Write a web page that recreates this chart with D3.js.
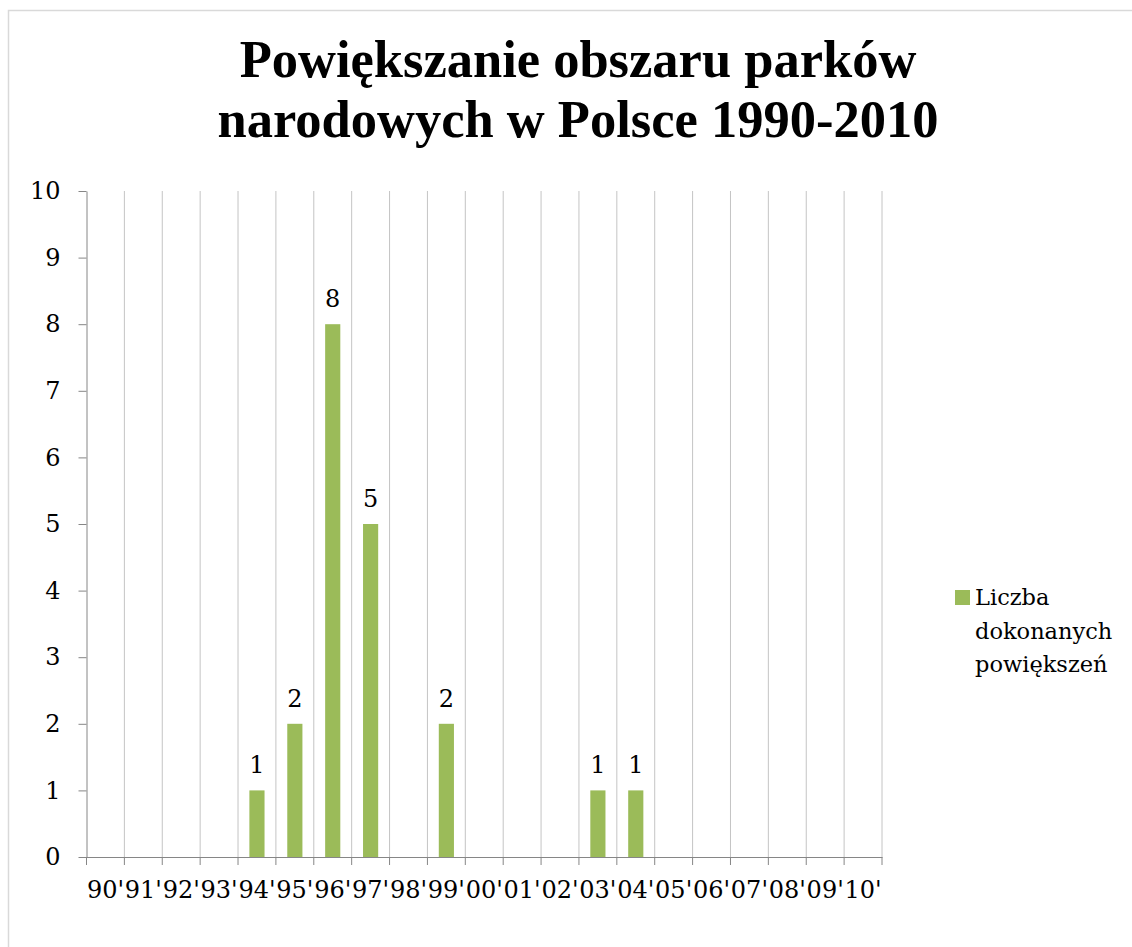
<!DOCTYPE html>
<html>
<head>
<meta charset="utf-8">
<script src="https://cdn.jsdelivr.net/npm/d3@7/dist/d3.min.js"></script>
<style>
  body { margin: 0; background: #fff; }
  svg text { font-family: "DejaVu Serif", serif; fill: #000; }
</style>
</head>
<body>
<svg width="1132" height="947"></svg>
<script>
// Data
const years = ["90'", "91'", "92'", "93'", "94'", "95'", "96'", "97'", "98'", "99'", "00'",
  "01'", "02'", "03'", "04'", "05'", "06'", "07'", "08'", "09'", "10'"];
const counts = [0, 0, 0, 0, 1, 2, 8, 5, 0, 2, 0, 0, 0, 1, 1, 0, 0, 0, 0, 0, 0];
const yTicks = [0, 1, 2, 3, 4, 5, 6, 7, 8, 9, 10];
const titleLines = ["Powiększanie obszaru parków", "narodowych w Polsce 1990-2010"];
const legendLines = ["Liczba", "dokonanych", "powiększeń"];

const svg = d3.select("svg");
const plotLeft = 86.5, plotRight = 882, plotTop = 191, plotBottom = 857;
const labelSize = "24px";

// outer chart border
svg.append("rect")
  .attr("x", 8.5).attr("y", 10.5)
  .attr("width", 1140).attr("height", 960)
  .attr("fill", "none").attr("stroke", "#d9d9d9").attr("stroke-width", 1.5);

// title
svg.append("g").selectAll("text")
  .data(titleLines)
  .enter()
  .append("text")
  .attr("x", 578)
  .attr("y", (d, i) => 77 + i * 60)
  .attr("text-anchor", "middle")
  .style("font-family", "'Liberation Serif', serif")
  .style("font-weight", "bold")
  .style("font-size", "52.5px")
  .text(d => d);

const x = d3.scaleBand().domain(years).range([plotLeft, plotRight]).paddingInner(0).paddingOuter(0);
const y = d3.scaleLinear().domain([0, 10]).range([plotBottom, plotTop]);

// vertical gridlines at category boundaries
svg.append("g").selectAll("line")
  .data(years)
  .enter()
  .append("line")
  .attr("x1", d => x(d) + x.bandwidth())
  .attr("x2", d => x(d) + x.bandwidth())
  .attr("y1", plotTop).attr("y2", plotBottom)
  .attr("stroke", "#c4c4c4").attr("stroke-width", 1);

// bars
const barW = x.bandwidth() / 2.5;
const barData = counts.map((v, i) => ({ year: years[i], v })).filter(d => d.v > 0);
svg.append("g").selectAll("rect")
  .data(barData)
  .enter()
  .append("rect")
  .attr("x", d => x(d.year) + (x.bandwidth() - barW) / 2)
  .attr("y", d => y(d.v))
  .attr("width", barW)
  .attr("height", d => y(0) - y(d.v))
  .attr("fill", "#9bbb59");

// data labels
svg.append("g").selectAll("text")
  .data(barData)
  .enter()
  .append("text")
  .attr("x", d => x(d.year) + x.bandwidth() / 2)
  .attr("y", d => y(d.v) - 17)
  .attr("text-anchor", "middle")
  .style("font-size", labelSize)
  .text(d => d.v);

// y axis
const yAxis = svg.append("g")
  .attr("transform", `translate(${plotLeft},0)`)
  .call(d3.axisLeft(y).tickValues(yTicks).tickSize(8).tickSizeOuter(0).tickPadding(18));
yAxis.select(".domain").attr("stroke", "#868686");
yAxis.selectAll(".tick line").attr("stroke", "#868686");
yAxis.selectAll(".tick text").style("font-size", labelSize).style("font-family", "'DejaVu Serif', serif").attr("fill", "#000");

// x axis
const xAxis = svg.append("g")
  .attr("transform", `translate(0,${plotBottom})`)
  .call(d3.axisBottom(x).tickSize(0).tickPadding(24));
xAxis.select(".domain").attr("stroke", "#868686");
xAxis.selectAll(".tick text").style("font-size", labelSize).style("font-family", "'DejaVu Serif', serif").attr("fill", "#000");
// tick marks at category boundaries
xAxis.append("g").selectAll("line")
  .data([plotLeft].concat(years.map(d => x(d) + x.bandwidth())))
  .enter()
  .append("line")
  .attr("x1", d => d)
  .attr("x2", d => d)
  .attr("y1", 0).attr("y2", 8)
  .attr("stroke", "#868686");

// legend
const legend = svg.append("g");
legend.append("rect")
  .attr("x", 955).attr("y", 590).attr("width", 15).attr("height", 15)
  .attr("fill", "#9bbb59");
legend.selectAll("text")
  .data(legendLines)
  .enter()
  .append("text")
  .attr("x", 975)
  .attr("y", (d, i) => 605 + i * 33.5)
  .style("font-size", "22.5px")
  .text(d => d);
</script>
</body>
</html>
